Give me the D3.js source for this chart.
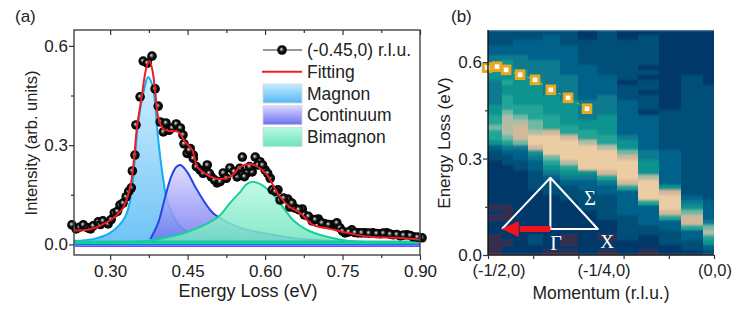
<!DOCTYPE html>
<html>
<head>
<meta charset="utf-8">
<script src="https://cdn.jsdelivr.net/npm/d3@7"></script>
<style>
    body { margin: 0; background: #fff; }
    svg { display: block; }
    text { font-family: "Liberation Sans", Arial, sans-serif; fill: #222; }
    .domain { display: none; }
    .tick line { stroke: #333; stroke-width: 1.2; }
</style>
</head>
<body>
<svg width="747" height="309"></svg>
<script>
// Panel (a): measured spectrum
const dataE = [0.226,0.234,0.241,0.248,0.257,0.262,0.267,0.277,0.281,0.286,0.296,0.302,0.308,0.314,0.319,0.325,0.331,0.336,0.341,0.343,0.348,0.350,0.358,0.364,0.372,0.381,0.387,0.393,0.397,0.403,0.408,0.414,0.420,0.428,0.436,0.441,0.443,0.449,0.455,0.461,0.461,0.474,0.488,0.496,0.507,0.519,0.532,0.546,0.556,0.565,0.575,0.581,0.590,0.600,0.610,0.614,0.625,0.629,0.644,0.648,0.658,0.672,0.676,0.691,0.703,0.716,0.730,0.739,0.745,0.755,0.768,0.780,0.794,0.809,0.823,0.836,0.848,0.862,0.875,0.887,0.904,
    0.453,0.467,0.480,0.492,0.502,0.513,0.525,0.540,0.551,0.560,0.570,0.586,0.595,0.605,0.620,0.636,0.652,0.665,0.684,0.697,0.710,0.723,0.750,0.762,0.774,0.787,0.801,0.816,0.829,0.842,0.855,0.868,0.881,0.895];
const dataI = [0.059,0.047,0.052,0.059,0.050,0.047,0.056,0.068,0.060,0.071,0.062,0.075,0.095,0.100,0.119,0.125,0.144,0.160,0.171,0.222,0.270,0.361,0.446,0.554,0.548,0.569,0.470,0.418,0.370,0.340,0.367,0.345,0.352,0.364,0.352,0.331,0.304,0.275,0.290,0.270,0.260,0.225,0.240,0.204,0.186,0.216,0.231,0.204,0.264,0.216,0.219,0.264,0.250,0.225,0.200,0.165,0.165,0.134,0.137,0.113,0.110,0.107,0.089,0.071,0.077,0.062,0.059,0.065,0.050,0.035,0.044,0.035,0.035,0.035,0.032,0.035,0.029,0.026,0.029,0.023,0.020,
    0.285,0.235,0.215,0.215,0.195,0.190,0.200,0.220,0.230,0.205,0.235,0.240,0.240,0.215,0.160,0.140,0.125,0.105,0.085,0.075,0.065,0.060,0.040,0.038,0.036,0.035,0.034,0.033,0.034,0.031,0.030,0.028,0.027,0.022];

// Panel (a): fit and its three components
const fitE = [0.230,0.257,0.280,0.306,0.325,0.339,0.346,0.352,0.361,0.370,0.376,0.381,0.387,0.393,0.403,0.416,0.432,0.445,0.459,0.469,0.488,0.509,0.532,0.552,0.571,0.586,0.604,0.615,0.629,0.648,0.668,0.693,0.726,0.759,0.803,0.856,0.900];
const fitI = [0.042,0.044,0.056,0.080,0.110,0.174,0.255,0.355,0.445,0.533,0.554,0.533,0.467,0.385,0.349,0.343,0.340,0.310,0.285,0.234,0.210,0.198,0.204,0.234,0.243,0.234,0.210,0.180,0.144,0.113,0.095,0.059,0.047,0.035,0.023,0.020,0.014];

const magnonE = [0.230,0.267,0.300,0.329,0.342,0.348,0.352,0.358,0.366,0.3735,0.381,0.387,0.391,0.397,0.403,0.410,0.430,0.449,0.474,0.560,0.700,0.900];
const magnonI = [0.011,0.016,0.035,0.083,0.165,0.264,0.336,0.406,0.470,0.506,0.485,0.427,0.350,0.264,0.195,0.134,0.065,0.038,0.026,0.012,0.006,0.003];

const continuumE = [0.378,0.393,0.405,0.418,0.428,0.436,0.449,0.468,0.499,0.526,0.552,0.604,0.670,0.753,0.900];
const continuumI = [0.016,0.065,0.134,0.204,0.234,0.240,0.219,0.165,0.095,0.068,0.050,0.032,0.016,0.009,0.004];

const bimagnonE = [0.230,0.374,0.424,0.470,0.509,0.532,0.552,0.565,0.577,0.590,0.610,0.629,0.654,0.681,0.720,0.759,0.900];
const bimagnonI = [0.005,0.011,0.026,0.050,0.083,0.125,0.159,0.183,0.189,0.183,0.159,0.125,0.074,0.044,0.023,0.011,0.005];

const legendLabels = ["(-0.45,0) r.l.u.", "Fitting", "Magnon", "Continuum", "Bimagnon"];

// Panel (b): column edges in momentum, intensity per column from top (0.7 eV) to bottom (0 eV)
const qEdges = [-0.5,-0.469,-0.445,-0.412,-0.378,-0.341,-0.301,-0.259,-0.215,-0.168,-0.122,-0.073,-0.024,0];
const col0 = [2,2,2,3,3,4,4,5,5,5,4,4,4,4,4,5,5,6,6,7,6,6,5,3,2,2,1,1,1,1,1,1,1,1,1,0,1,0,1,1,1,0,0,0,0];
const col1 = [2,2,2,3,3,4,5,5,5,5,6,5,5,6,6,6,7,8,8,8,8,7,6,4,3,2,2,1,1,1,1,1,1,1,1,0,0,0,1,1,1,1,0,1,1];
const col2 = [2,2,3,3,3,4,4,4,5,5,5,5,5,5,5,6,6,7,8,9,9,9,7,4,3,3,2,2,1,1,1,1,1,1,1,1,1,1,1,1,1,1,1,1,1];
const col3 = [2,2,3,3,3,3,4,4,4,4,5,5,5,5,5,6,6,6,7,7,8,10,10,9,5,4,3,3,2,2,2,2,1,1,1,1,1,1,1,1,1,2,2,1,1];
const col4 = [2,3,3,3,3,3,4,4,4,4,4,4,4,5,5,5,5,6,6,6,9,10,10,10,10,7,6,5,4,3,2,2,2,1,1,1,1,1,1,1,1,1,1,1,0];
const col5 = [2,2,2,3,3,3,3,3,3,4,4,4,4,4,5,5,5,5,5,6,6,9,10,10,10,10,8,6,5,4,3,2,2,2,1,1,1,1,1,1,1,0,0,1,0];
const col6 = [1,1,2,2,2,2,2,3,3,3,3,3,3,3,4,4,4,4,5,5,6,6,8,10,10,10,10,10,5,4,3,3,2,2,2,2,1,1,1,1,1,1,1,1,1];
const col7 = [2,2,2,2,2,2,2,2,2,3,3,3,3,4,4,4,4,5,5,5,5,6,6,8,10,10,10,10,9,6,4,3,3,2,2,2,2,2,1,1,1,0,1,1,0];
const col8 = [1,1,2,2,2,2,2,2,2,2,1,2,2,2,3,3,3,3,3,3,3,4,5,5,7,9,10,10,10,10,9,6,3,3,3,3,3,2,2,2,2,2,1,1,1];
const col9 = [1,2,2,2,2,2,2,1,2,1,2,2,1,2,2,2,1,3,3,3,3,3,3,3,4,4,5,5,5,8,10,10,10,10,6,3,3,3,3,2,2,1,1,1,0];
const col10 = [1,1,1,1,1,1,1,1,1,1,1,1,1,1,1,1,2,2,2,2,2,2,2,2,3,3,3,3,3,3,3,5,9,10,10,10,9,6,3,3,2,2,2,1,1];
const col11 = [1,1,1,1,1,1,1,1,1,2,2,2,2,2,2,2,2,2,2,2,2,2,2,2,2,2,2,2,2,2,2,2,2,3,4,5,7,9,9,6,3,3,2,2,1];
const col12 = [1,1,1,1,1,1,1,1,1,1,1,2,2,2,2,2,2,2,2,2,2,2,2,2,2,2,2,2,2,2,2,2,2,2,3,3,3,3,4,7,8,6,5,3,2];
const heatColumns = [col0,col1,col2,col3,col4,col5,col6,col7,col8,col9,col10,col11,col12];

// Panel (b): magnon dispersion from the squares
const dispQ = [-0.502,-0.48,-0.46,-0.429,-0.396,-0.361,-0.323,-0.281];
const dispE = [0.583,0.586,0.576,0.561,0.545,0.514,0.489,0.455];

const momentumLabels = ["(-1/2,0)", "(-1/4,0)", "(0,0)"];

const svg = d3.select("svg");
const defs = svg.append("defs");

function vGradient(id, top, bottom) {
    const g = defs.append("linearGradient").attr("id", id)
        .attr("x1", 0).attr("y1", 0).attr("x2", 0).attr("y2", 1);
    g.append("stop").attr("offset", "0%").attr("stop-color", top);
    g.append("stop").attr("offset", "100%").attr("stop-color", bottom);
}
vGradient("gradMagnon", "#c4ebff", "#56b8f4");
vGradient("gradContinuum", "#dcd8ff", "#6a70f0");
vGradient("gradBimagnon", "#b8f8e4", "#6ee4bc");

const ball = defs.append("radialGradient").attr("id", "ball")
    .attr("cx", "50%").attr("cy", "50%").attr("r", "50%")
    .attr("fx", "42%").attr("fy", "40%");
ball.append("stop").attr("offset", "0%").attr("stop-color", "#eee");
ball.append("stop").attr("offset", "25%").attr("stop-color", "#777");
ball.append("stop").attr("offset", "50%").attr("stop-color", "#111");
ball.append("stop").attr("offset", "100%").attr("stop-color", "#000");

// soft edges for the heat map, the picture is slightly blurred
defs.append("filter").attr("id", "soft")
    .attr("x", "0").attr("y", "0").attr("width", "100%").attr("height", "100%")
    .append("feGaussianBlur").attr("stdDeviation", "0.5 0.9").attr("edgeMode", "duplicate");

// ---------- panel (a) ----------
const xA = d3.scaleLinear().domain([0.23, 0.90]).range([74, 420]);
const yA = d3.scaleLinear().domain([-0.032, 0.648]).range([255, 30]);

const curve = d3.curveCatmullRom.alpha(0.5);

function component(E, I, grad, stroke) {
    const pts = E.map((e, i) => [e, I[i]]);
    const area = d3.area().x(d => xA(d[0])).y0(yA(0)).y1(d => yA(d[1])).curve(curve);
    const line = d3.line().x(d => xA(d[0])).y(d => yA(d[1])).curve(curve);
    svg.append("path").attr("d", area(pts)).attr("fill", `url(#${grad})`).attr("fill-opacity", 0.85);
    svg.append("path").attr("d", line(pts)).attr("fill", "none").attr("stroke", stroke).attr("stroke-width", 2);
}
component(magnonE, magnonI, "gradMagnon", "#14aef2");
component(continuumE, continuumI, "gradContinuum", "#2446e4");
component(bimagnonE, bimagnonI, "gradBimagnon", "#12d296");

// baselines of the components
[["#7a30e0", -0.006, 1], ["#1a70f0", -0.001, 2], ["#10d098", 0.007, 3]].forEach(([c, v, w]) => {
    svg.append("line").attr("x1", 75).attr("x2", 420).attr("y1", yA(v)).attr("y2", yA(v))
        .attr("stroke", c).attr("stroke-width", w);
});

svg.append("g").selectAll("circle").data(dataE).join("circle")
    .attr("cx", d => xA(d))
    .attr("cy", (d, i) => yA(dataI[i]))
    .attr("r", 4.8)
    .attr("fill", "url(#ball)");

svg.append("path")
    .attr("d", d3.line().x(d => xA(d[0])).y(d => yA(d[1])).curve(curve)(fitE.map((e, i) => [e, fitI[i]])))
    .attr("fill", "none").attr("stroke", "#ee1c25").attr("stroke-width", 2);

// frame and ticks
svg.append("rect").attr("x", xA.range()[0]).attr("y", yA.range()[1])
    .attr("width", 346).attr("height", 225)
    .attr("fill", "none").attr("stroke", "#444").attr("stroke-width", 1.4);

const majorE = [0.30, 0.45, 0.60, 0.75, 0.90];
const minorE = [0.375, 0.525, 0.675, 0.825];
const majorI = [0.0, 0.3, 0.6];
const minorI = [0.15, 0.45];
const fmt2 = d3.format(".2f"), fmt1 = d3.format(".1f");

function tickLabels(g, size) { g.selectAll("text").style("font-size", size + "px"); }

svg.append("g").attr("transform", "translate(0,255)")
    .call(d3.axisBottom(xA).tickValues(majorE).tickFormat(fmt2).tickSize(5).tickPadding(5))
    .call(tickLabels, 17);
svg.append("g").attr("transform", "translate(0,255)")
    .call(d3.axisBottom(xA).tickValues(minorE).tickFormat("").tickSize(3));
svg.append("g").attr("transform", "translate(0,30)")
    .call(d3.axisBottom(xA).tickValues(majorE).tickFormat("").tickSize(5));
svg.append("g").attr("transform", "translate(0,30)")
    .call(d3.axisBottom(xA).tickValues(minorE).tickFormat("").tickSize(3));
svg.append("g").attr("transform", "translate(74,0)")
    .call(d3.axisLeft(yA).tickValues(majorI).tickFormat(fmt1).tickSize(5).tickPadding(1))
    .call(tickLabels, 17);
svg.append("g").attr("transform", "translate(74,0)")
    .call(d3.axisLeft(yA).tickValues(minorI).tickFormat("").tickSize(3));

// legend
const legendY = d3.scalePoint().domain(legendLabels).range([50, 137]);
legendLabels.forEach(l => {
    svg.append("text").attr("x", 307).attr("y", legendY(l) + 6)
        .style("font-size", "17.5px").text(l);
});
svg.append("line").attr("x1", 263).attr("x2", 302)
    .attr("y1", legendY(legendLabels[0])).attr("y2", legendY(legendLabels[0]))
    .attr("stroke", "#333").attr("stroke-width", 1);
svg.append("circle").attr("cx", 282).attr("cy", legendY(legendLabels[0])).attr("r", 4.8).attr("fill", "url(#ball)");
svg.append("line").attr("x1", 262).attr("x2", 302)
    .attr("y1", legendY(legendLabels[1])).attr("y2", legendY(legendLabels[1]))
    .attr("stroke", "#ee1c25").attr("stroke-width", 2);
[["gradMagnon", 2], ["gradContinuum", 3], ["gradBimagnon", 4]].forEach(([g, i]) => {
    svg.append("rect").attr("x", 263).attr("y", legendY(legendLabels[i]) - 9.5)
        .attr("width", 39).attr("height", 19)
        .attr("fill", `url(#${g})`).attr("stroke", "#cfd8dc").attr("stroke-width", 0.8);
});

svg.append("text").attr("x", 15).attr("y", 22).style("font-size", "17px").text("(a)");
svg.append("text").attr("x", 248).attr("y", 297).attr("text-anchor", "middle")
    .style("font-size", "18px").text("Energy Loss (eV)");
svg.append("text").attr("transform", "translate(37,143) rotate(-90)").attr("text-anchor", "middle")
    .style("font-size", "16.5px").text("Intensity (arb. units)");

// ---------- panel (b) ----------
const xB = d3.scaleLinear().domain([-0.5, 0]).range([488, 714]);
const yB = d3.scaleLinear().domain([0, 0.7]).range([255, 30]);

const heatColor = d3.scaleLinear()
    .domain([0, 1, 2, 3, 4, 5, 6, 7, 8, 9, 10])
    .range(["#352f4e", "#04386a", "#044f78", "#03628a", "#087a90", "#0e9490", "#22a596", "#70b9a4", "#b2bda6", "#d4b89c", "#eccca3"]);

const rowCount = col0.length;
const rowEnergy = 0.7 / rowCount;

const heat = svg.append("g").attr("filter", "url(#soft)");
heatColumns.forEach((col, c) => {
    heat.append("g").selectAll("rect").data(col).join("rect")
        .attr("x", xB(qEdges[c]))
        .attr("width", xB(qEdges[c + 1]) - xB(qEdges[c]))
        .attr("y", (d, r) => yB(0.7 - r * rowEnergy))
        .attr("height", yB(0) - yB(rowEnergy))
        .attr("fill", d => heatColor(d))
        .attr("shape-rendering", "crispEdges");
});

// dispersion squares with the faint dashed guide
svg.append("path")
    .attr("d", d3.line().x(d => xB(d[0])).y(d => yB(d[1]))(dispQ.map((q, i) => [q, dispE[i]])))
    .attr("fill", "none").attr("stroke", "#c8b060").attr("stroke-width", 1).attr("stroke-dasharray", "3,4");
svg.append("g").selectAll("rect").data(dispQ).join("rect")
    .attr("x", d => xB(d) - 3.8)
    .attr("y", (d, i) => yB(dispE[i]) - 3.8)
    .attr("width", 7.6).attr("height", 7.6)
    .attr("fill", "#fff").attr("stroke", "#e8a822").attr("stroke-width", 3);

// Brillouin zone sketch (drawn in panel coordinates)
const zoneApex = [xB(-0.362), yB(0.2405)];
const zoneLeft = [xB(-0.469), yB(0.0810)];
const zoneRight = [xB(-0.257), yB(0.0810)];
const zoneCenter = [xB(-0.362), yB(0.0810)];
svg.append("path")
    .attr("d", d3.line()([zoneLeft, zoneApex, zoneRight, zoneCenter, zoneApex]))
    .attr("fill", "none").attr("stroke", "#fff").attr("stroke-width", 2).attr("stroke-linejoin", "round");
svg.append("rect").attr("x", xB(-0.43)).attr("y", zoneCenter[1] - 3)
    .attr("width", zoneCenter[0] - xB(-0.43)).attr("height", 6).attr("fill", "#f0141e");
svg.append("path")
    .attr("d", d3.line()([[xB(-0.4695), zoneCenter[1]], [xB(-0.432), zoneCenter[1] - 8], [xB(-0.432), zoneCenter[1] + 8]]) + "Z")
    .attr("fill", "#f0141e");
[["Σ", 590, 205, 20], ["Γ", 556, 250, 20], ["X", 607, 248, 19]].forEach(([t, x, y, s]) => {
    svg.append("text").attr("x", x).attr("y", y).attr("text-anchor", "middle")
        .style("font-family", "'Liberation Serif', serif").style("font-size", s + "px")
        .style("fill", "#fff").text(t);
});

// axes of panel (b)
svg.append("line").attr("x1", 488).attr("x2", 488).attr("y1", 30).attr("y2", 255).attr("stroke", "#111").attr("stroke-width", 1.4);
svg.append("line").attr("x1", 488).attr("x2", 714).attr("y1", 255).attr("y2", 255).attr("stroke", "#111").attr("stroke-width", 1.4);

svg.append("g").attr("transform", "translate(0,255)")
    .call(d3.axisBottom(xB).tickValues(d3.range(6).map(i => -0.5 + i * 0.1)).tickFormat("").tickSize(4));
svg.append("g").attr("transform", "translate(488,0)")
    .call(d3.axisLeft(yB).tickValues([0, 0.3, 0.6]).tickFormat(fmt1).tickSize(5).tickPadding(1))
    .call(tickLabels, 17);
svg.append("g").attr("transform", "translate(488,0)")
    .call(d3.axisLeft(yB).tickValues([0.15, 0.45]).tickFormat("").tickSize(3));

[499, 604, 715].forEach((x, i) => {
    svg.append("text").attr("x", x).attr("y", 276).attr("text-anchor", "middle")
        .style("font-size", "16.5px").text(momentumLabels[i]);
});

svg.append("text").attr("x", 451).attr("y", 22).style("font-size", "17px").text("(b)");
svg.append("text").attr("x", 601).attr("y", 299).attr("text-anchor", "middle")
    .style("font-size", "17.5px").text("Momentum (r.l.u.)");
svg.append("text").attr("transform", "translate(450,143) rotate(-90)").attr("text-anchor", "middle")
    .style("font-size", "17px").text("Energy Loss (eV)");
</script>
</body>
</html>
